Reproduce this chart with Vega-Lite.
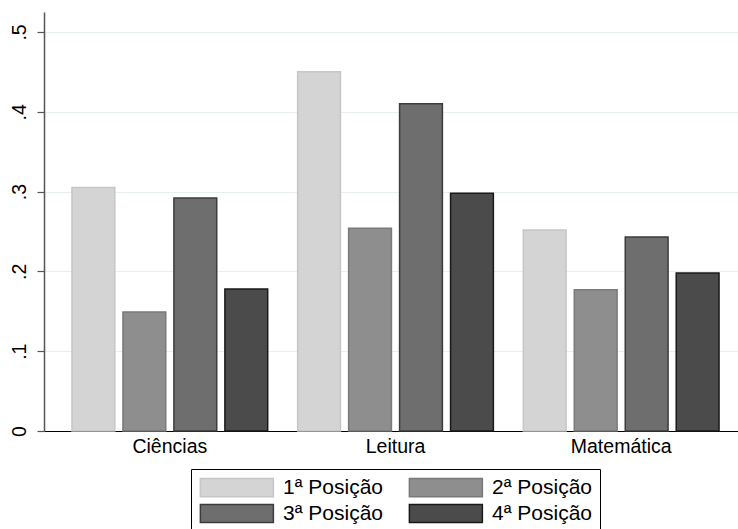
{
  "$schema": "https://vega.github.io/schema/vega-lite/v6.json",
  "width": 694,
  "height": 419,
  "autosize": {"type": "none"},
  "padding": {"left": 44, "top": 12, "right": 0, "bottom": 98},
  "background": "white",
  "config": {
    "view": {"stroke": null},
    "font": "Liberation Sans",
    "axis": {"labelColor": "#000", "labelFont": "Liberation Sans"},
    "legend": {"labelFont": "Liberation Sans", "labelColor": "#000"}
  },
  "data": {
    "values": [
      {"subject": "Ciências", "posicao": "1ª Posição", "value": 0.305},
      {"subject": "Ciências", "posicao": "2ª Posição", "value": 0.149},
      {"subject": "Ciências", "posicao": "3ª Posição", "value": 0.292},
      {"subject": "Ciências", "posicao": "4ª Posição", "value": 0.178},
      {"subject": "Leitura", "posicao": "1ª Posição", "value": 0.450},
      {"subject": "Leitura", "posicao": "2ª Posição", "value": 0.254},
      {"subject": "Leitura", "posicao": "3ª Posição", "value": 0.410},
      {"subject": "Leitura", "posicao": "4ª Posição", "value": 0.298},
      {"subject": "Matemática", "posicao": "1ª Posição", "value": 0.252},
      {"subject": "Matemática", "posicao": "2ª Posição", "value": 0.177},
      {"subject": "Matemática", "posicao": "3ª Posição", "value": 0.243},
      {"subject": "Matemática", "posicao": "4ª Posição", "value": 0.198}
    ]
  },
  "mark": {"type": "bar", "strokeWidth": 1.5},
  "encoding": {
    "x": {
      "field": "subject",
      "type": "nominal",
      "sort": null,
      "scale": {"paddingInner": 0.1327, "paddingOuter": 0.104, "align": 0.596},
      "axis": {
        "title": null,
        "labelAngle": 0,
        "ticks": false,
        "domainColor": "#000",
        "domainWidth": 1.2,
        "labelFontSize": 19.5,
        "labelPadding": 6,
        "grid": false
      }
    },
    "xOffset": {
      "field": "posicao",
      "type": "nominal",
      "sort": null,
      "scale": {"paddingInner": 0.16, "paddingOuter": 0}
    },
    "y": {
      "field": "value",
      "type": "quantitative",
      "scale": {"domain": [0, 0.525], "nice": false, "zero": true},
      "axis": {
        "title": null,
        "values": [0, 0.1, 0.2, 0.3, 0.4, 0.5],
        "labelExpr": "datum.value == 0 ? '0' : substring(format(datum.value, '.1f'), 1)",
        "labelAngle": -90,
        "labelAlign": "center",
        "labelBaseline": "bottom",
        "labelPadding": 8,
        "labelFontSize": 19.5,
        "tickSize": 7,
        "tickWidth": 1.2,
        "domainWidth": 1.5,
        "domainColor": "#555555",
        "tickColor": "#555555",
        "grid": true,
        "gridColor": "#e8eff0",
        "gridWidth": 1.2
      }
    },
    "fill": {
      "field": "posicao",
      "type": "nominal",
      "sort": null,
      "scale": {"range": ["#d4d4d4", "#8e8e8e", "#6e6e6e", "#4b4b4b"]},
      "legend": {
        "title": null,
        "orient": "none",
        "direction": "horizontal",
        "legendX": 147,
        "legendY": 457,
        "columns": 2,
        "symbolType": "M-1,-1L7,-1L7,1L-1,1Z",
        "symbolSize": 333,
        "symbolStrokeWidth": 1.5,
        "labelFontSize": 21,
        "labelOffset": 63,
        "columnPadding": 23,
        "rowPadding": 1,
        "padding": 8,
        "strokeColor": "#000",
        "fillColor": "white"
      }
    },
    "stroke": {
      "field": "posicao",
      "type": "nominal",
      "sort": null,
      "scale": {"range": ["#c6c6c6", "#7a7a7a", "#3c3c3c", "#1a1a1a"]},
      "legend": {
        "title": null,
        "orient": "none",
        "direction": "horizontal",
        "legendX": 147,
        "legendY": 457,
        "columns": 2,
        "symbolType": "M-1,-1L7,-1L7,1L-1,1Z",
        "symbolSize": 333,
        "symbolStrokeWidth": 1.5,
        "labelFontSize": 21,
        "labelOffset": 63,
        "columnPadding": 23,
        "rowPadding": 1,
        "padding": 8,
        "strokeColor": "#000",
        "fillColor": "white"
      }
    }
  }
}
